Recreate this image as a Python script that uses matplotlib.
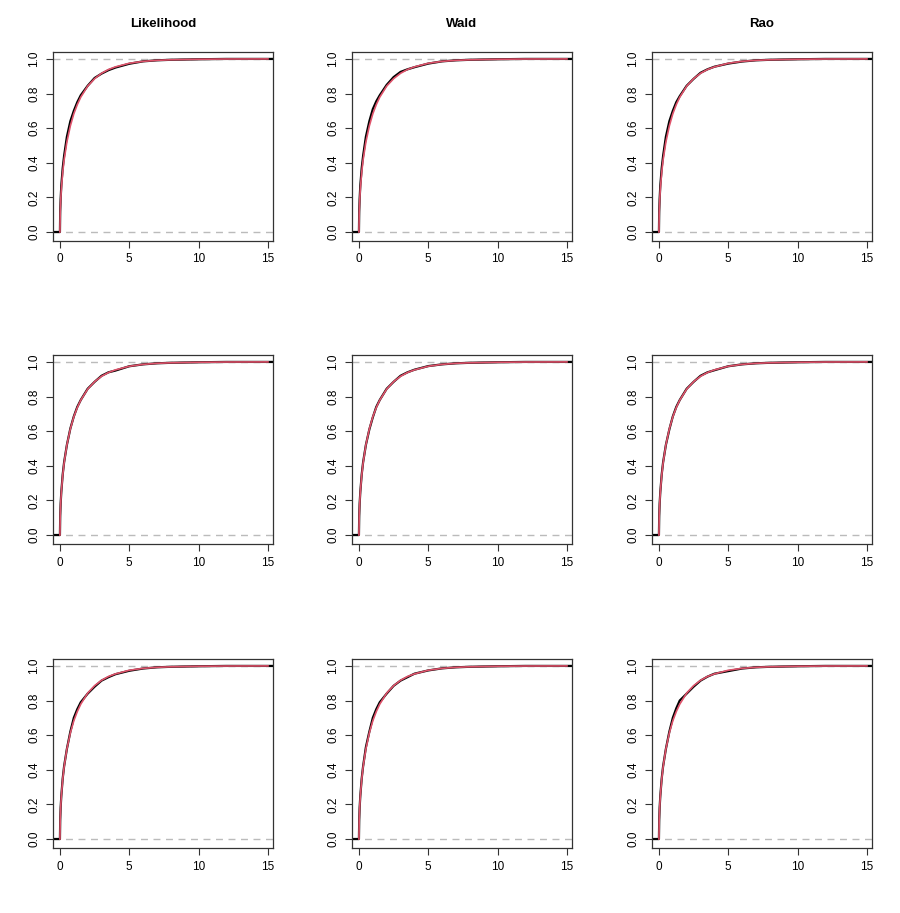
"""3x3 grid of ECDF vs reference chi-square(1) CDF for three test statistics."""

import matplotlib
matplotlib.use("Agg")
import matplotlib.pyplot as plt

plt.rcParams["font.family"] = ["Liberation Sans", "DejaVu Sans"]

TITLES = ["Likelihood", "Wald", "Rao"]

# x positions
X_GRID = [0.0, 0.02, 0.05, 0.1, 0.2, 0.3, 0.5, 0.75, 1.0, 1.25, 1.5, 2.0,
          2.5, 3.0, 3.5, 4.0, 5.0, 6.0, 7.0, 8.0, 10.0, 12.0, 15.0]

# red reference curve (same in all panels)
REF_CDF = [0.0, 0.112, 0.177, 0.248, 0.345, 0.416, 0.520, 0.613, 0.683,
           0.736, 0.779, 0.843, 0.886, 0.917, 0.939, 0.954, 0.975, 0.986,
           0.992, 0.995, 0.998, 0.9995, 1.0]

# black empirical curves, row by row
ECDF = [
    [0.0, 0.12, 0.19, 0.27, 0.37, 0.44, 0.55, 0.64, 0.70, 0.75, 0.79, 0.845,
     0.89, 0.915, 0.935, 0.950, 0.972, 0.986, 0.992, 0.995, 0.998, 1.0, 1.0],
    [0.0, 0.12, 0.19, 0.27, 0.37, 0.44, 0.55, 0.64, 0.71, 0.755, 0.79, 0.85,
     0.895, 0.925, 0.940, 0.952, 0.973, 0.986, 0.992, 0.995, 0.998, 1.0, 1.0],
    [0.0, 0.12, 0.19, 0.27, 0.37, 0.44, 0.55, 0.64, 0.70, 0.75, 0.785, 0.845,
     0.885, 0.920, 0.940, 0.955, 0.973, 0.985, 0.992, 0.995, 0.998, 1.0, 1.0],
    [0.0, 0.11, 0.18, 0.25, 0.35, 0.42, 0.52, 0.615, 0.685, 0.74, 0.78, 0.845,
     0.885, 0.920, 0.940, 0.950, 0.975, 0.986, 0.992, 0.995, 0.998, 1.0, 1.0],
    [0.0, 0.11, 0.18, 0.25, 0.35, 0.42, 0.52, 0.61, 0.68, 0.74, 0.78, 0.845,
     0.885, 0.920, 0.940, 0.955, 0.976, 0.986, 0.992, 0.995, 0.998, 1.0, 1.0],
    [0.0, 0.11, 0.18, 0.25, 0.35, 0.42, 0.52, 0.61, 0.685, 0.74, 0.78, 0.845,
     0.885, 0.920, 0.940, 0.952, 0.975, 0.986, 0.992, 0.995, 0.998, 1.0, 1.0],
    [0.0, 0.11, 0.18, 0.25, 0.35, 0.42, 0.52, 0.62, 0.70, 0.75, 0.79, 0.840,
     0.880, 0.915, 0.935, 0.952, 0.972, 0.985, 0.992, 0.995, 0.998, 1.0, 1.0],
    [0.0, 0.11, 0.18, 0.25, 0.35, 0.42, 0.53, 0.62, 0.70, 0.75, 0.79, 0.840,
     0.885, 0.915, 0.935, 0.955, 0.974, 0.986, 0.992, 0.995, 0.998, 1.0, 1.0],
    [0.0, 0.11, 0.18, 0.25, 0.35, 0.42, 0.52, 0.62, 0.70, 0.755, 0.80, 0.840,
     0.880, 0.915, 0.938, 0.955, 0.970, 0.985, 0.992, 0.995, 0.998, 1.0, 1.0],
]

X_TICKS = [0, 5, 10, 15]
Y_TICKS = [0.0, 0.2, 0.4, 0.6, 0.8, 1.0]
XLIM = (-0.5, 15.36)
YLIM = (-0.052, 1.04)

RED = "#DF536B"
W, H = 900, 913
COL_LEFT = [53, 352, 652]
ROW_TOP = [52, 355, 659]
AX_W, AX_H = 220, 189

fig = plt.figure(figsize=(W / 100, H / 100), dpi=100)

for r in range(3):
    for c in range(3):
        left = COL_LEFT[c] / W
        bottom = 1 - (ROW_TOP[r] + AX_H) / H
        ax = fig.add_axes([left, bottom, AX_W / W, AX_H / H])
        ys = ECDF[r * 3 + c]
        ax.axhline(0, color="#bbbbbb", linestyle=(0, (5, 4)), linewidth=1.0, zorder=1)
        ax.axhline(1, color="#bbbbbb", linestyle=(0, (5, 4)), linewidth=1.0, zorder=1)
        bx = [XLIM[0]] + X_GRID + [XLIM[1]]
        by = [0.0] + ys + [1.0]
        ax.plot(bx, by, color="black", linewidth=1.6, zorder=2)
        ax.plot(X_GRID, REF_CDF, color=RED, linewidth=1.2, zorder=3)
        ax.set_xlim(*XLIM)
        ax.set_ylim(*YLIM)
        ax.set_xticks(X_TICKS)
        ax.set_yticks(Y_TICKS)
        ax.set_yticklabels([f"{v:.1f}" for v in Y_TICKS], rotation=90, va="center")
        ax.tick_params(labelsize=8.5, length=5, width=0.8, color="#333333", pad=4)
        for s in ax.spines.values():
            s.set_linewidth(0.9)
            s.set_color("#333333")
        if r == 0:
            ax.set_title(TITLES[c], fontsize=9.5, fontweight="bold", pad=18)

fig.savefig("out.png", dpi=100)
